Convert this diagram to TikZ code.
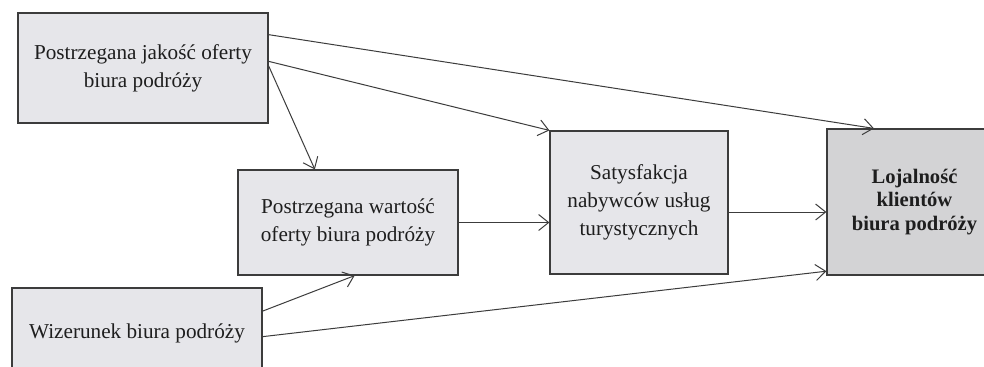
\documentclass[tikz,border=0pt]{standalone}
\usepackage{fontspec}
\setmainfont{Liberation Serif}
\usetikzlibrary{arrows.meta,calc}
\definecolor{BoxBg}{HTML}{E6E6EA}
\definecolor{BoxDark}{HTML}{D3D3D5}
\definecolor{LineGray}{HTML}{3C3C3C}
\definecolor{TextDark}{HTML}{1E1E1E}

\begin{document}
\begin{tikzpicture}[x=0.5pt,y=-0.5pt,
          every node/.style={font=\fontsize{10.6}{14}\selectfont},
          box/.style={draw=LineGray, fill=BoxBg, line width=0.6pt,
            inner sep=0pt, align=center, text=TextDark},
          ar/.style={-{Straight Barb[length=5pt,width=8pt]},line width=0.5pt,LineGray}]
        \useasboundingbox (0,0) rectangle (984,366);
        \clip (0,0) rectangle (984,366);
        \fill[white] (0,0) rectangle (984,366);
        \node[box, minimum width=125pt, minimum height=55pt]
        (jak) at (143,68) {Postrzegana jakość oferty\\biura podróży};
        \node[box, minimum width=110pt, minimum height=52.5pt]
        (war) at (348,222.5) {Postrzegana wartość\\oferty biura podróży};
        \node[box, minimum width=89pt, minimum height=71.5pt]
        (sat) at (639,202.5) {Satysfakcja\\nabywców usług\\turystycznych};
        \node[box, fill=BoxDark, minimum width=87.5pt, minimum height=73pt,
          font=\fontsize{10.3}{11.8}\selectfont\bfseries]
        (loj) at (914.5,202) {Lojalność\\klientów\\biura podróży};
        \node[box, minimum width=125pt, minimum height=45pt]
        (wiz) at (137,333) {Wizerunek biura podróży};
        \draw[ar] ($(jak.north east)!0.2!(jak.south east)$) -- ($(loj.north west)!0.27!(loj.north east)$);
        \draw[ar] ($(jak.north east)!0.44!(jak.south east)$) -- (sat.north west);
        \draw[ar] ($(jak.north east)!0.48!(jak.south east)$) -- ($(war.north west)!0.35!(war.north east)$);
        \draw[ar] (war.east) -- (war.east -| sat.west);
        \draw[ar] ($(sat.east)+(0,9.5)$) -- ($(loj.west)+(0,10)$);
        \draw[ar] ($(wiz.north east)!0.26!(wiz.south east)$) -- ($(war.south west)!0.53!(war.south east)$);
        \draw[ar] ($(wiz.north east)!0.54!(wiz.south east)$) -- ($(loj.north west)!0.97!(loj.south west)$);
      \end{tikzpicture}
\end{document}
